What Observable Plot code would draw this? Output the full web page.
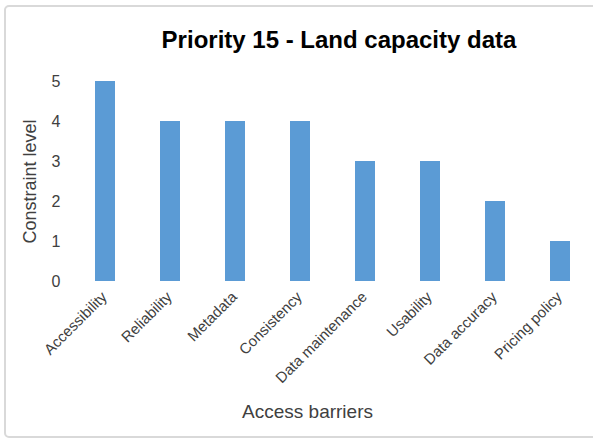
<!DOCTYPE html>
<html>
<head>
<meta charset="utf-8">
<script src="https://cdn.jsdelivr.net/npm/d3@7"></script>
<script src="https://cdn.jsdelivr.net/npm/@observablehq/plot@0.6"></script>
<style>
  html, body { margin: 0; padding: 0; background: #fff; }
  #chart svg { display: block; }
</style>
</head>
<body>
<div id="chart"></div>
<script>
// Constraint level reported for each access barrier
const barriers = ["Accessibility", "Reliability", "Metadata", "Consistency", "Data maintenance", "Usability", "Data accuracy", "Pricing policy"];
const levels = [5, 4, 4, 4, 3, 3, 2, 1];
const yTicks = [0, 1, 2, 3, 4, 5];
const titleText = "Priority 15 - Land capacity data";
const xTitle = "Access barriers";
const yTitle = "Constraint level";

const data = barriers.map((b, i) => ({barrier: b, level: levels[i]}));
const font = "'Liberation Sans', Arial, sans-serif";

const chart = Plot.plot({
  width: 593,
  height: 439,
  marginLeft: 73,
  marginRight: 0,
  marginTop: 81,
  marginBottom: 158,
  style: {fontFamily: font, fontSize: "16px", color: "#404040", background: "#fff"},
  x: {domain: barriers, paddingInner: 0.69, paddingOuter: 0.345, label: null},
  y: {domain: [0, 5], label: null},
  marks: [
    Plot.gridY(yTicks, {stroke: "#d9d9d9", strokeOpacity: 1, strokeWidth: 1.3, x1: 72}),
    Plot.barY(data, {x: "barrier", y: "level", fill: "#5b9bd5"}),
    Plot.axisY(yTicks, {tickSize: 0, tickPadding: 13, fontSize: 16, fill: "#404040", label: null}),
    Plot.axisX({tickSize: 0, tickRotate: -45, tickPadding: 3, dx: -1, dy: 10, fontSize: 15, fill: "#404040", label: null}),
    Plot.text([titleText], {frameAnchor: "top", lineAnchor: "bottom", dx: 5.5, dy: -34, fontSize: 24, fontWeight: "bold", fill: "#000"}),
    Plot.text([xTitle], {frameAnchor: "bottom", lineAnchor: "bottom", dx: -26, dy: 136, fontSize: 19, fill: "#404040"}),
    Plot.text([yTitle], {frameAnchor: "left", textAnchor: "middle", rotate: -90, dx: -43, fontSize: 18, fill: "#404040"})
  ]
});

// Rounded chart-area border
d3.select(chart).insert("rect", ":first-child")
  .attr("x", 5).attr("y", 6).attr("width", 600).attr("height", 431)
  .attr("rx", 4).attr("fill", "#fff").attr("stroke", "#d9d9d9").attr("stroke-width", 2);

document.getElementById("chart").append(chart);
</script>
</body>
</html>
